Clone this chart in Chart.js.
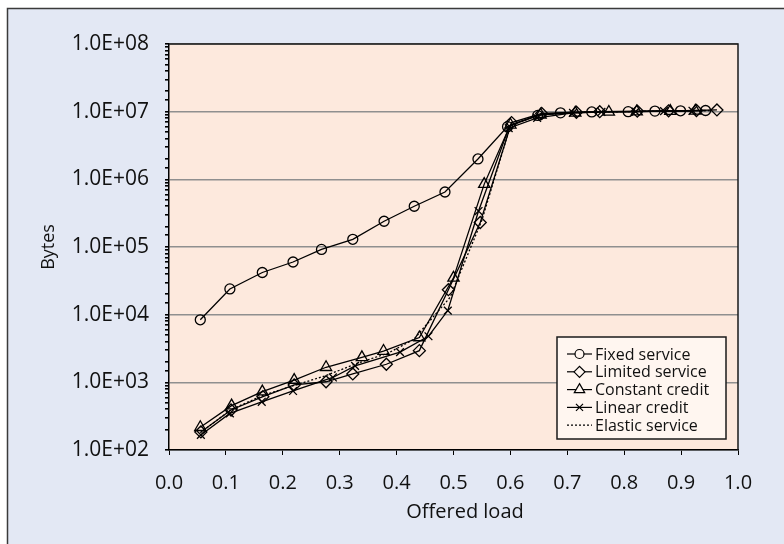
<!DOCTYPE html>
<html>
<head>
<meta charset="utf-8">
<title>Bytes vs offered load</title>
<script src="https://cdn.jsdelivr.net/npm/chart.js@4"></script>
<style>
  html, body { margin: 0; padding: 0; background: #fff; }
  #chart { display: block; }
</style>
</head>
<body>
<canvas id="chart" width="784" height="544"></canvas>
<script>
// values (log y axis)
const fixedX = [0.055, 0.107, 0.164, 0.218, 0.268, 0.323, 0.378, 0.431, 0.485, 0.543, 0.595, 0.648, 0.688, 0.743, 0.807, 0.854, 0.899, 0.943];
const fixedY = [8.4e3, 2.4e4, 4.2e4, 6.0e4, 9.2e4, 1.3e5, 2.4e5, 4.0e5, 6.5e5, 2.0e6, 6.0e6, 8.8e6, 9.6e6, 9.9e6, 1.0e7, 1.02e7, 1.03e7, 1.04e7];

const limitedX = [0.056, 0.109, 0.165, 0.220, 0.276, 0.323, 0.382, 0.440, 0.491, 0.547, 0.602, 0.655, 0.716, 0.757, 0.823, 0.878, 0.927, 0.963];
const limitedY = [185, 390, 614, 915, 1.02e3, 1.33e3, 1.85e3, 2.94e3, 2.34e4, 2.3e5, 6.9e6, 9.4e6, 9.8e6, 1.0e7, 1.02e7, 1.03e7, 1.04e7, 1.06e7];

const constantX = [0.055, 0.110, 0.164, 0.220, 0.276, 0.339, 0.377, 0.440, 0.500, 0.554, 0.600, 0.653, 0.714, 0.773, 0.822, 0.881, 0.925];
const constantY = [217, 452, 728, 1.08e3, 1.67e3, 2.34e3, 2.9e3, 4.6e3, 3.5e4, 8.5e5, 6.4e6, 9.0e6, 9.6e6, 9.9e6, 1.0e7, 1.02e7, 1.03e7];

const linearX = [0.056, 0.107, 0.163, 0.218, 0.288, 0.327, 0.406, 0.456, 0.490, 0.544, 0.597, 0.647, 0.710, 0.760, 0.820, 0.870, 0.920];
const linearY = [167, 347, 516, 745, 1.18e3, 1.75e3, 2.8e3, 4.8e3, 1.15e4, 3.4e5, 5.7e6, 8.1e6, 9.6e6, 9.9e6, 1.0e7, 1.02e7, 1.03e7];

const elasticX = [0.055, 0.110, 0.165, 0.220, 0.275, 0.330, 0.385, 0.430, 0.494, 0.550, 0.600, 0.650, 0.700, 0.750, 0.800, 0.850, 0.900, 0.950];
const elasticY = [180, 400, 640, 900, 1.25e3, 1.9e3, 2.7e3, 4.3e3, 1.8e4, 2.5e5, 6.2e6, 9.0e6, 9.7e6, 9.9e6, 1.0e7, 1.02e7, 1.03e7, 1.04e7];

const seriesNames = ['Fixed service', 'Limited service', 'Constant credit', 'Linear credit', 'Elastic service'];

const xTickLabels = ['0.0', '0.1', '0.2', '0.3', '0.4', '0.5', '0.6', '0.7', '0.8', '0.9', '1.0'];
const yTickLabels = ['1.0E+02', '1.0E+03', '1.0E+04', '1.0E+05', '1.0E+06', '1.0E+07', '1.0E+08'];
const xTitle = 'Offered load';

const FONT = '"Open Sans", "Noto Sans", sans-serif';

function pts(xs, ys) {
    return xs.map((x, i) => ({ x: x, y: ys[i] }));
}

function decadeIndex(v) {
    const e = Math.log10(v);
    if (Math.abs(e - Math.round(e)) > 1e-9) return -1;
    return Math.round(e) - 2;
}

function series(label, data, style, radius, dash) {
    return {
        label: label,
        data: data,
        borderColor: '#000',
        borderWidth: 1.3,
        borderDash: dash || [],
        pointStyle: style,
        pointRadius: style ? radius : 0,
        pointBorderColor: '#000',
        pointBackgroundColor: 'rgba(0,0,0,0)',
        pointBorderWidth: 1.3,
        tension: 0,
        fill: false
    };
}

// panel background, peach plot area, plot frame, x title
const panelPlugin = {
    id: 'panel',
    beforeDraw(chart) {
        const { ctx, chartArea: a, width, height } = chart;
        ctx.save();
        ctx.fillStyle = '#ffffff';
        ctx.fillRect(0, 0, width, height);
        ctx.fillStyle = '#e3e8f4';
        ctx.fillRect(7, 8, width - 7, height - 8);
        ctx.strokeStyle = '#3a3a3a';
        ctx.lineWidth = 1.5;
        ctx.beginPath();
        ctx.moveTo(7.5, height);
        ctx.lineTo(7.5, 8.5);
        ctx.lineTo(width, 8.5);
        ctx.stroke();
        ctx.fillStyle = '#fde9dd';
        ctx.fillRect(a.left, a.top, a.right - a.left, a.bottom - a.top);
        ctx.restore();
    },
    afterDraw(chart) {
        const { ctx, chartArea: a } = chart;
        ctx.save();
        ctx.strokeStyle = '#1a1a1a';
        ctx.lineWidth = 1.5;
        ctx.beginPath();
        ctx.moveTo(a.left, a.top);
        ctx.lineTo(a.right, a.top);
        ctx.lineTo(a.right, a.bottom);
        ctx.stroke();
        // x title sits a bit right of the plot centre in the original
        ctx.font = '20px ' + FONT;
        ctx.fillStyle = '#111';
        ctx.textAlign = 'center';
        ctx.textBaseline = 'middle';
        ctx.fillText(xTitle, 465, 512);
        ctx.restore();
    }
};

// legend box inside the plot, lower right
const boxLegend = {
    id: 'boxLegend',
    afterDraw(chart) {
        const ctx = chart.ctx;
        const bx = 557, by = 337, bw = 169, bh = 102;
        ctx.save();
        ctx.fillStyle = '#fff6f0';
        ctx.fillRect(bx, by, bw, bh);
        ctx.strokeStyle = '#1a1a1a';
        ctx.lineWidth = 1.5;
        ctx.strokeRect(bx, by, bw, bh);

        ctx.font = '16px ' + FONT;
        ctx.textBaseline = 'middle';
        ctx.textAlign = 'left';
        chart.data.datasets.forEach((ds, i) => {
            const y = 354 + i * 17.8;
            ctx.strokeStyle = '#000';
            ctx.lineWidth = 1.2;
            ctx.setLineDash(ds.borderDash.length ? [2, 2] : []);
            ctx.beginPath();
            ctx.moveTo(567, y);
            ctx.lineTo(592, y);
            ctx.stroke();
            ctx.setLineDash([]);
            if (ds.pointStyle) {
                ctx.fillStyle = '#fff6f0';
                Chart.helpers.drawPoint(ctx, {
                    pointStyle: ds.pointStyle,
                    radius: ds.pointRadius - 0.5,
                    rotation: 0,
                    borderWidth: 1.2
                }, 579.5, y);
            }
            ctx.fillStyle = '#111';
            ctx.fillText(ds.label, 595, y + 1);
        });
        ctx.restore();
    }
};

new Chart(document.getElementById('chart'), {
    type: 'line',
    data: {
        datasets: [
            series(seriesNames[0], pts(fixedX, fixedY), 'circle', 5),
            series(seriesNames[1], pts(limitedX, limitedY), 'rectRot', 6),
            series(seriesNames[2], pts(constantX, constantY), 'triangle', 6.5),
            series(seriesNames[3], pts(linearX, linearY), 'crossRot', 5.5),
            series(seriesNames[4], pts(elasticX, elasticY), false, 0, [2, 2])
        ]
    },
    options: {
        responsive: false,
        animation: false,
        layout: { padding: { top: 44, right: 46, left: 0, bottom: 0 } },
        plugins: {
            legend: { display: false },
            tooltip: { enabled: false }
        },
        scales: {
            x: {
                type: 'linear',
                min: 0,
                max: 1,
                afterFit(scale) { scale.height = 94; },
                ticks: {
                    stepSize: 0.1,
                    autoSkip: false,
                    maxRotation: 0,
                    padding: 16,
                    color: '#111',
                    font: { family: FONT, size: 20 },
                    callback: (v) => xTickLabels[Math.round(v * 10)]
                },
                grid: {
                    drawOnChartArea: false,
                    color: '#000',
                    tickColor: '#000',
                    tickLength: 5
                },
                border: { color: '#000', width: 1.5 },
                title: { display: false }
            },
            y: {
                type: 'logarithmic',
                min: 100,
                max: 1e8,
                afterFit(scale) { scale.width = 169; },
                ticks: {
                    autoSkip: false,
                    padding: 16,
                    color: '#111',
                    font: { family: FONT, size: 21 },
                    callback: (v) => {
                        const k = decadeIndex(v);
                        return k >= 0 ? yTickLabels[k] : '';
                    }
                },
                grid: {
                    color: (c) => decadeIndex(c.tick.value) >= 0 ? '#8f8f8f' : 'rgba(0,0,0,0)',
                    lineWidth: 1.6,
                    tickColor: '#000',
                    tickLength: 4
                },
                border: { color: '#000', width: 1.5 },
                title: {
                    display: true,
                    text: 'Bytes',
                    color: '#111',
                    font: { family: FONT, size: 18 },
                    padding: { top: 38, bottom: 0 }
                }
            }
        }
    },
    plugins: [panelPlugin, boxLegend]
});
</script>
</body>
</html>
